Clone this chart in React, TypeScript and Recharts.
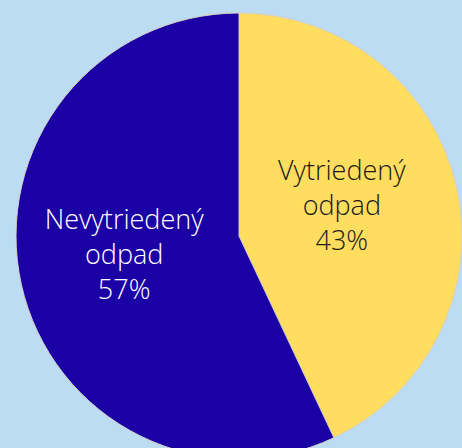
import { PieChart, Pie, Cell } from 'recharts';

const categories = ['Vytriedený odpad', 'Nevytriedený odpad'];
const shares = [43, 57];
const colors = ['#FFDD5F', '#1B00A6'];
const labelColors = ['#1a1a1a', '#FFFFFF'];

const data = categories.map((name, i) => ({ name, value: shares[i] }));

const RAD = Math.PI / 180;

function renderLabel(props: any) {
  const { cx, cy, midAngle, outerRadius, index, name, value } = props;
  const r = outerRadius * 0.5;
  // labels sit a little up and to the left of the slice middle
  const x = cx + r * Math.cos(-midAngle * RAD) - 6;
  const y = cy + r * Math.sin(-midAngle * RAD) - 7;
  const words = String(name).split(' ');
  const lines = [...words, `${value}%`];
  return (
    <g>
      {lines.map((line, i) => (
        <text
          key={i}
          x={x}
          y={y + (i - 1) * 35}
          textAnchor="middle"
          dominantBaseline="central"
          fill={labelColors[index]}
          fontFamily="'Open Sans', sans-serif"
          fontWeight={300}
          fontSize={27}
        >
          {line}
        </text>
      ))}
    </g>
  );
}

export default function App() {
  return (
    <div
      style={{
        position: 'fixed',
        top: 0,
        left: 0,
        width: 462,
        height: 448,
        background: '#BCDCF4',
        overflow: 'hidden',
      }}
    >
      <PieChart width={462} height={448} margin={{ top: 0, right: 0, bottom: 0, left: 0 }}>
        <Pie
          data={data}
          dataKey="value"
          nameKey="name"
          cx={239}
          cy={236}
          innerRadius={0}
          outerRadius={223}
          startAngle={90}
          endAngle={-270}
          stroke="#d8cfc0"
          strokeWidth={1}
          label={renderLabel}
          labelLine={false}
          isAnimationActive={false}
        >
          {data.map((d, i) => (
            <Cell key={d.name} fill={colors[i]} />
          ))}
        </Pie>
      </PieChart>
    </div>
  );
}
